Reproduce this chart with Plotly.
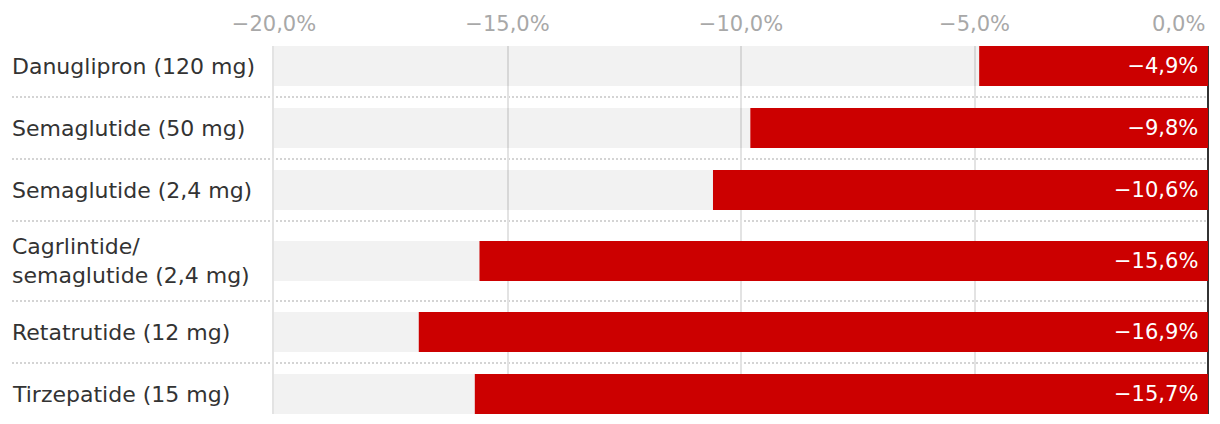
"""
Perte de poids moyenne par traitement - Plotly
"""
import plotly.graph_objects as go

# Données
labels = [
    "Danuglipron (120 mg)",
    "Semaglutide (50 mg)",
    "Semaglutide (2,4 mg)",
    "Cagrlintide/<br>semaglutide (2,4 mg)",
    "Retatrutide (12 mg)",
    "Tirzepatide (15 mg)",
]
values = [-4.9, -9.8, -10.6, -15.6, -16.9, -15.7]
x_min, x_max = -20, 0
tick_vals = [-20, -15, -10, -5, 0]


def fmt(v):
    return f"{v:.1f}%".replace("-", "\u2212").replace(".", ",")


tick_text = [fmt(t) for t in tick_vals]

FONT = "DejaVu Sans"
RED = "#cc0000"
TICK_GREY = '#a8a8a8'

# Positions des lignes (les libellés sur deux lignes prennent plus de place)
row_h = [1 + 0.29 * (lab.count("<br>")) for lab in labels]
bounds = [0]
for h in row_h:
    bounds.append(bounds[-1] + h)
centers = [(bounds[i] + bounds[i + 1]) / 2 for i in range(len(labels))]
bar_w = 0.645

texts = [fmt(v) + "\u00a0" for v in values]

fig = go.Figure()

# Fond gris
fig.add_trace(go.Bar(
    y=centers, x=[x_min] * len(labels),
    orientation='h', width=bar_w,
    marker=dict(color='rgba(0,0,0,0.05)', line=dict(width=0)),
    hoverinfo='skip', showlegend=False
))

# Barres rouges
fig.add_trace(go.Bar(
    y=centers, x=values,
    orientation='h', width=bar_w,
    marker=dict(color=RED, line=dict(width=0)),
    text=texts, textposition='inside', insidetextanchor='start',
    textangle=0,
    insidetextfont=dict(family=FONT, size=21, color='white'),
    hoverinfo='skip', showlegend=False
))

# Libellés à gauche
for c, lab in zip(centers, labels):
    fig.add_annotation(
        x=0, xref='paper', xanchor='left', xshift=-264,
        y=c, yref='y', yanchor='middle',
        text=lab, align='left', showarrow=False,
        font=dict(family=FONT, size=22, color='#333333')
    )

# Dernier libellé de l'axe, aligné à droite pour rester dans le cadre
fig.add_annotation(
    x=tick_vals[-1], xref='x', xanchor='right', xshift=-1,
    y=1, yref='paper', yanchor='bottom', yshift=8,
    text=tick_text[-1], showarrow=False,
    font=dict(family=FONT, size=21, color=TICK_GREY)
)
tick_text[-1] = ""

# Séparateurs pointillés
for b in bounds[1:-1]:
    fig.add_shape(
        type='line', xref='paper', x0=-262 / 934, x1=1,
        yref='y', y0=b, y1=b,
        line=dict(color='#d4d4d4', width=2, dash='2px,2px'),
        layer='below'
    )

fig.update_layout(
    width=1220, height=424,
    margin=dict(l=274, r=12, t=46, b=10),
    barmode='overlay',
    plot_bgcolor='white', paper_bgcolor='white',
    font=dict(family=FONT),
    showlegend=False,
)
fig.update_xaxes(
    side='top', range=[x_min, x_max], automargin=False,
    tickvals=tick_vals, ticktext=tick_text,
    tickfont=dict(family=FONT, size=21, color=TICK_GREY),
    showgrid=True, gridcolor='#e3e3e3', gridwidth=2,
    zeroline=True, zerolinecolor='#333333', zerolinewidth=2,
    ticks='', ticklabelstandoff=10, showline=False
)
fig.update_yaxes(
    range=[centers[-1] + bar_w / 2, centers[0] - bar_w / 2],
    showticklabels=False, showgrid=False, zeroline=False, ticks='',
    showline=True, linecolor='#e3e3e3', linewidth=2,
    automargin=False
)

fig.write_html("out.html", config={'displayModeBar': False},
               post_script="document.body.style.margin='0';")
